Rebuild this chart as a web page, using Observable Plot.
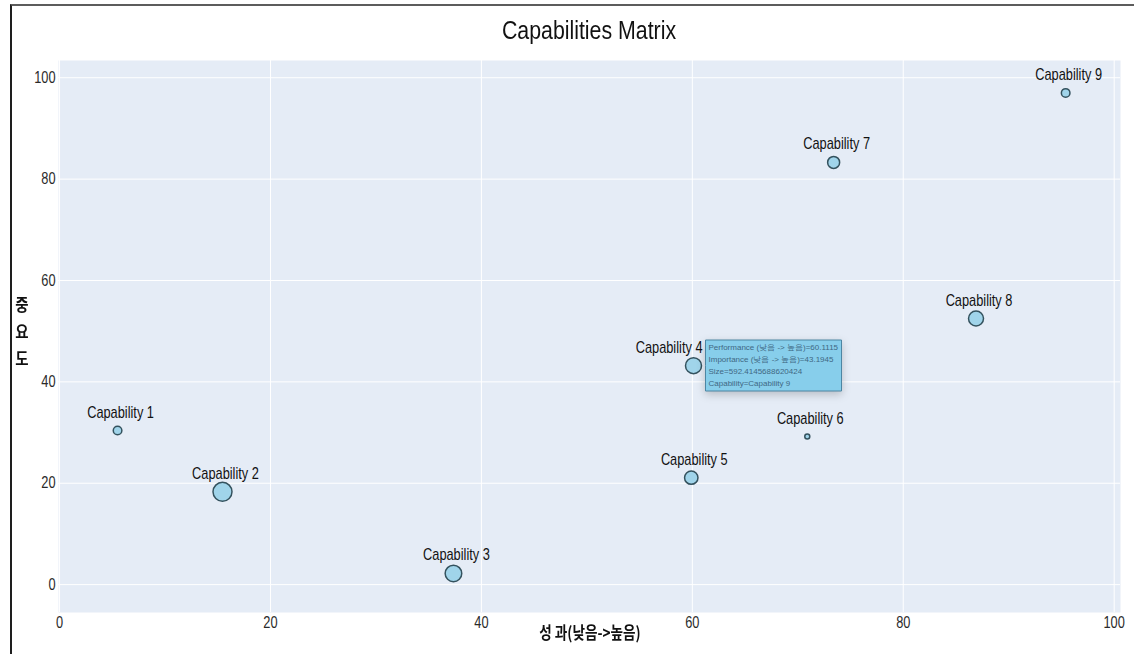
<!DOCTYPE html>
<html><head><meta charset="utf-8">
<script src="https://cdn.jsdelivr.net/npm/d3@7"></script>
<script src="https://cdn.jsdelivr.net/npm/@observablehq/plot@0.6"></script>
<style>
body{margin:0;background:#fff;}
#wrap{position:relative;width:1134px;height:654px;overflow:hidden;font-family:"Liberation Sans",Arial,sans-serif;}
#border{position:absolute;left:10px;top:4px;right:-4px;bottom:-4px;border-left:2px solid #1e1e1e;border-top:2px solid #5c5c5c;pointer-events:none;}
#title{position:absolute;top:12px;left:58px;width:1062px;text-align:center;font-size:26px;line-height:36px;color:#111;transform:scaleX(0.82);}
#chart{position:absolute;top:50px;left:0;}
#ylab{position:absolute;left:12px;top:290px;width:20px;text-align:center;font-family:"Noto Sans CJK KR",sans-serif;font-weight:700;font-size:17px;line-height:27px;color:#111;transform:scaleX(0.85);}
#xlab{position:absolute;left:440px;top:620px;width:300px;text-align:center;font-family:"Noto Sans CJK KR",sans-serif;font-weight:700;font-size:17px;line-height:24px;color:#111;transform:scaleX(0.8);}
g[aria-label="tip"] text{fill:#3f6883;}
</style>
</head><body>
<div id="wrap">
  <div id="title">Capabilities Matrix</div>
  <div id="chart"></div>
  <div id="ylab">중<br>요<br>도</div>
  <div id="xlab">성 과(낮음-&gt;높음)</div>
  <div id="border"></div>
</div>
<script>
const capabilities = ["Capability 1","Capability 2","Capability 3","Capability 4","Capability 5","Capability 6","Capability 7","Capability 8","Capability 9"];
const performance = [5.5, 15.45, 37.35, 60.1115, 59.9, 70.9, 73.4, 86.9, 95.4];
const importance  = [30.4, 18.3, 2.2, 43.1945, 21.1, 29.2, 83.3, 52.5, 97.0];
const sizes       = [171, 835, 637, 592.4145688620424, 415, 58, 333, 520, 171];
const xTicks = [0, 20, 40, 60, 80, 100];
const yTicks = [0, 20, 40, 60, 80, 100];
const xDomain = [-0.1, 100.6];
const yDomain = [-5.5, 103.4];
const tipLines = [
  "Performance (낮음 -> 높음)=60.1115",
  "Importance (낮음 -> 높음)=43.1945",
  "Size=592.4145688620424",
  "Capability=Capability 9"
];
const tipIndex = 3;

const data = capabilities.map((c, i) => ({capability: c, performance: performance[i], importance: importance[i], size: sizes[i]}));
const tipData = [{...data[tipIndex], text: tipLines.join("\n")}];
const rMax = 9.5;
const sizeMax = d3.max(sizes);
const rOf = s => rMax * Math.sqrt(s / sizeMax);

const fontStack = '"Liberation Sans",Arial,sans-serif';

const marks = [
  Plot.frame({fill: "#e5ecf6", stroke: null}),
  Plot.ruleX(xTicks, {stroke: "#ffffff", strokeWidth: 1}),
  Plot.ruleY(yTicks, {stroke: "#ffffff", strokeWidth: 1}),
  // axis tick labels, placed through the scales at the frame edges
  Plot.text(xTicks, {x: d => d, y: () => yDomain[0], lineAnchor: "top", dy: 4, fontSize: 16, fill: "#2a2a2a"}),
  Plot.text(yTicks, {y: d => d, x: () => xDomain[0], textAnchor: "end", dx: -3, fontSize: 16, fill: "#2a2a2a"}),
  Plot.dot(data, {x: "performance", y: "importance", r: "size", fill: "#a0d4ea", stroke: "#34525e", strokeWidth: 1.5}),
  Plot.text(data.filter((d, i) => i !== tipIndex), {x: "performance", y: "importance", text: "capability", lineAnchor: "bottom", dy: -13, dx: 3, fontSize: 16, fill: "#111"}),
  Plot.text([data[tipIndex]], {x: "performance", y: "importance", text: "capability", lineAnchor: "bottom", textAnchor: "end", dy: -13, dx: 9, fontSize: 16, fill: "#111"})
];
if (Plot.tip) {
  marks.push(Plot.tip(tipData, {
    x: "performance", y: "importance", title: "text", anchor: "left",
    dx: rOf(sizes[tipIndex]) + 4, pointerSize: 0,
    fill: "#87ceeb", stroke: "#4d86a3", strokeWidth: 1,
    fontSize: 8, lineHeight: 1.5, textPadding: 3, lineWidth: 60,
    fontFamily: fontStack
  }));
}

const chart = Plot.plot({
  width: 1134, height: 604,
  marginTop: 10, marginBottom: 42, marginLeft: 58, marginRight: 14,
  style: {fontFamily: fontStack, fontSize: "16px", color: "#2a2a2a", background: "transparent", overflow: "visible"},
  x: {domain: xDomain, axis: null},
  y: {domain: yDomain, axis: null},
  r: {domain: [0, sizeMax], range: [0, rMax]},
  marks
});
document.getElementById("chart").appendChild(chart);

// horizontally condense text glyphs around their anchor points (reference uses a narrow face)
function squeeze(nodes, k) {
  nodes.forEach(t => {
    const fs = parseFloat(getComputedStyle(t).fontSize) || 16;
    const px = v => v == null ? 0 : (String(v).trim().endsWith("em") ? parseFloat(v) * fs : (parseFloat(v) || 0));
    const x = px(t.getAttribute("x")), y = px(t.getAttribute("y"));
    const tr = t.getAttribute("transform") || "";
    t.removeAttribute("x"); t.removeAttribute("y");
    t.setAttribute("transform", `${tr} translate(${x},${y}) scale(${k},1)`);
  });
}
squeeze(chart.querySelectorAll('g[aria-label="text"] > text'), 0.8);
</script>
</body></html>
